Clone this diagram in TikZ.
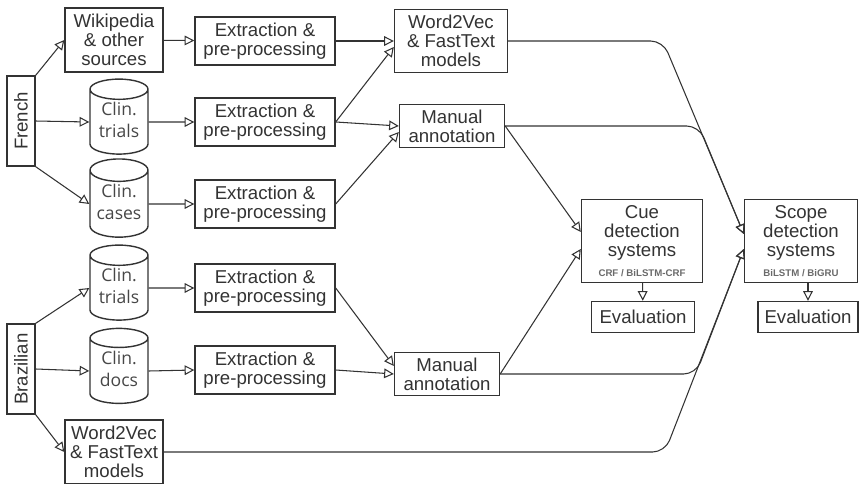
\documentclass[tikz,border=0pt]{standalone}
\usepackage{fontspec}
\setmainfont{Liberation Sans}
\newfontfamily\cylfont{Open Sans}
\usetikzlibrary{shapes.geometric,arrows.meta,calc}

\definecolor{ink}{HTML}{333333}
\definecolor{tagink}{HTML}{6A6A6A}
\newcommand{\systag}[1]{{\fontsize{5.5}{6}\selectfont\bfseries\color{tagink}#1}}
\newcommand{\dbtext}[2]{\raisebox{-3.5pt}{\begin{tabular}{@{}c@{}}#1\\#2\end{tabular}}}

\tikzset{
  box/.style={draw=ink, line width=0.8pt, fill=white, text=ink, align=center,
    inner sep=1pt, font=\fontsize{10.6}{10.9}\selectfont},
  db/.style={cylinder, shape border rotate=90, aspect=0.5, draw=ink,
    line width=0.8pt, fill=white, text=ink!90, inner sep=0pt,
    font=\cylfont\fontsize{10}{12.5}\selectfont,
    minimum width=1.16cm, minimum height=1.5cm},
  link/.style={draw=ink, line width=0.6pt,
    -{Triangle[open, length=5.5pt, width=5.5pt]}}
}

\begin{document}
\begin{tikzpicture}[x=0.02cm, y=-0.02cm]
  \fill[white] (0,0) rectangle (860,484);
  \useasboundingbox (0,0) rectangle (860,484);

  % Languages
  \node[box, minimum width=0.56cm, minimum height=1.8cm] (fr) at (21,121) {\rotatebox{90}{French}};
  \node[box, minimum width=0.56cm, minimum height=1.8cm] (br) at (21,369) {\rotatebox{90}{Brazilian}};

  % Sources
  \node[box, minimum width=1.96cm, minimum height=1.28cm] (wiki) at (114,40) {Wikipedia\\\& other\\sources};
  \node[db] (fclin) at (119,122) {\dbtext{Clin.}{trials}};
  \node[db] (fcase) at (119,204) {\dbtext{Clin.}{cases}};
  \node[db] (bclin) at (119,288) {\dbtext{Clin.}{trials}};
  \node[db] (bdocs) at (119,371) {\dbtext{Clin.}{docs}};
  \node[box, minimum width=1.96cm, minimum height=1.28cm] (bw2v) at (114,452) {Word2Vec\\\& FastText\\models};

  % Extraction
  \node[box, minimum width=2.8cm, minimum height=0.96cm] (ex1) at (265,41) {Extraction \&\\pre-processing};
  \node[box, minimum width=2.8cm, minimum height=0.96cm] (ex2) at (265,122) {Extraction \&\\pre-processing};
  \node[box, minimum width=2.8cm, minimum height=0.96cm] (ex3) at (265,204) {Extraction \&\\pre-processing};
  \node[box, minimum width=2.8cm, minimum height=0.96cm] (ex4) at (265,288) {Extraction \&\\pre-processing};
  \node[box, minimum width=2.8cm, minimum height=0.96cm] (ex5) at (265,370) {Extraction \&\\pre-processing};

  % Models and annotation
  \node[box, minimum width=2.26cm, minimum height=1.26cm] (fw2v) at (451,41) {Word2Vec\\\& FastText\\models};
  \node[box, minimum width=2.1cm, minimum height=0.86cm] (fman) at (452,126) {Manual\\annotation};
  \node[box, minimum width=2.1cm, minimum height=0.86cm] (bman) at (447,374) {Manual\\annotation};

  % Systems
  \node[box, minimum width=2.42cm, minimum height=1.66cm] (cue) at (642,241) {Cue\\detection\\systems\\\systag{CRF / BiLSTM-CRF}};
  \node[box, minimum width=2.06cm, minimum height=0.62cm] (cueev) at (643,317) {Evaluation};
  \node[box, minimum width=2.26cm, minimum height=1.66cm] (scope) at (801,241) {Scope\\detection\\systems\\\systag{BiLSTM / BiGRU}};
  \node[box, minimum width=2.0cm, minimum height=0.62cm] (scopeev) at (808,317) {Evaluation};

  % Bends
  \coordinate (kA) at (663,41);
  \coordinate (kB) at (699,126);
  \coordinate (kC) at (696,374);
  \coordinate (kD) at (665,452);

  \draw[link] (fr.north east) -- (wiki.west);
  \draw[link] (fr.east) -- (fclin.west);
  \draw[link] (fr.south east) -- (fcase.west);
  \draw[link] (br.north east) -- (bclin.west);
  \draw[link] (br.east) -- (bdocs.west);
  \draw[link] (br.south east) -- (bw2v.west);

  \draw[link] (wiki) -- (ex1);
  \draw[link] (fclin.east) -- (ex2.west);
  \draw[link] (fcase.east) -- (ex3.west);
  \draw[link] (bclin.east) -- (ex4.west);
  \draw[link] (bdocs.east) -- (ex5.west);

  \draw[link] (ex1) -- (fw2v);
  \draw[link] (ex2.east) -- ($(fw2v.west)+(0,6)$);
  \draw[link] (ex2.east) -- (fman.west);
  \draw[link] (ex3.east) -- ($(fman.west)+(0,6)$);
  \draw[link] (ex4.east) -- ($(bman.west)+(0,-8)$);
  \draw[link] (ex5.east) -- (bman.west);

  \draw[link] (fman.east) -- ($(cue.west)+(0,-9)$);
  \draw[link] (bman.east) -- ($(cue.west)+(0,8)$);

  \draw[link, rounded corners=7pt] (fw2v.east) -- (kA) -- ($(scope.west)+(0,-7)$);
  \draw[link, rounded corners=7pt] (fman.east) -- (kB) -- ($(scope.west)+(0,-7)$);
  \draw[link, rounded corners=7pt] (bman.east) -- (kC) -- ($(scope.west)+(0,8)$);
  \draw[link, rounded corners=7pt] (bw2v.east) -- (kD) -- ($(scope.west)+(0,8)$);

  \draw[link] (cue) -- (cueev);
  \draw[link] (scopeev |- scope.south) -- (scopeev.north);
\end{tikzpicture}
\end{document}
